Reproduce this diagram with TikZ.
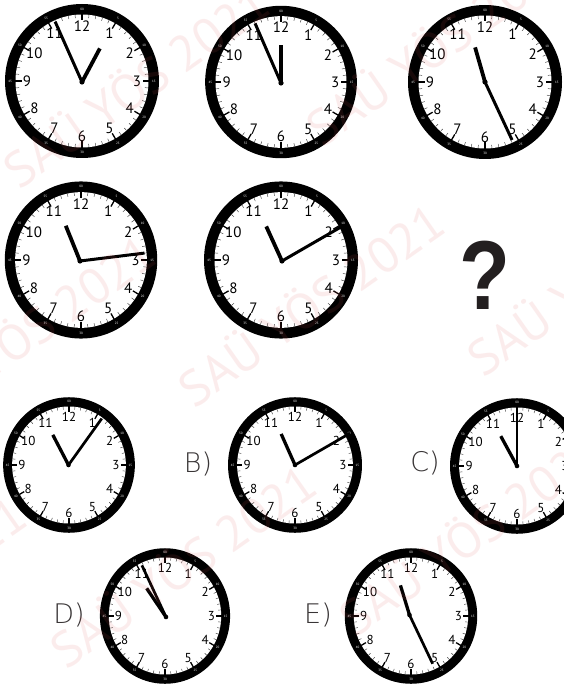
\documentclass[tikz,border=0pt]{standalone}
\usepackage{fontspec}
\setmainfont{PT Sans}
\newfontfamily\numfont{PT Sans}
\newfontfamily\wmfont{PT Sans}
\newfontfamily\lblfont{DejaVu Sans ExtraLight}
\newfontfamily\qfont{Liberation Sans}
\definecolor{wm}{RGB}{225,90,90}
\definecolor{ink}{RGB}{35,31,32}
\tikzset{
  numlbl/.style={inner sep=0pt, text=black},
  minlbl/.style={inner sep=0pt, text=white, font=\fontsize{3.2}{3.2}\selectfont},
  optlbl/.style={inner sep=0pt, text=ink!90, font=\lblfont\fontsize{27}{27}\selectfont},
  wmtext/.style={inner sep=0pt, rotate=35, text=wm, text opacity=0.11, font=\wmfont\fontsize{50}{50}\selectfont}
}
% #1 cx, #2 cy, #3 xscale, #4 yscale, #5 number font size
\newcommand\clockface[5]{%
\begin{scope}[shift={(#1,#2)},xscale=#3,yscale=#4]
  \fill[black] (0,0) circle (77);
  \fill[white] (0,0) circle (66.5);
  \foreach \m in {0,...,59}{\draw[line width=0.45pt,black!75] ({66.5*sin(6*\m)},{-66.5*cos(6*\m)}) -- ({63.2*sin(6*\m)},{-63.2*cos(6*\m)});}
  \foreach \h in {0,...,11}{\draw[line width=1.3pt] ({67*sin(30*\h)},{-67*cos(30*\h)}) -- ({60.5*sin(30*\h)},{-60.5*cos(30*\h)});}
  \foreach \h in {1,...,12}{\node[numlbl,font=\numfont\fontsize{#5}{#5}\selectfont] at ({55*sin(30*\h)},{-55*cos(30*\h)}) {\h};}
  \foreach \h/\l in {0/00,1/5,2/10,3/15,4/20,5/25,6/30,7/35,8/40,9/45,10/50,11/55}{\node[minlbl] at ({71.8*sin(30*\h)},{-71.8*cos(30*\h)}) {\l};}
\end{scope}}
% #1 cx, #2 cy, #3 angle, #4 length, #5 width
\newcommand\clockhand[5]{%
  \draw[line width=#5,line cap=butt] (#1,#2) -- ({#1+#4*sin(#3)},{#2-#4*cos(#3)});}
\begin{document}
\begin{tikzpicture}[x=1pt,y=-1pt]
\useasboundingbox (0,0) rectangle (563,684);
\fill[white] (0,0) rectangle (563,684);

% ---- row 1 ----
\clockface{82}{81}{1}{1}{15}
\clockhand{82}{82}{28}{38}{3.8pt}
\clockhand{82}{82}{-24}{66}{3pt}
\fill (82,82) circle (2.6);

\clockface{281}{82}{0.985}{0.99}{15}
\clockhand{281}{83}{0}{38}{3.8pt}
\clockhand{281}{83}{-23.5}{65}{3pt}
\fill (281,83) circle (2.6);

\clockface{485}{82}{1}{1}{15}
\clockhand{485}{82}{-16}{36}{3.8pt}
\clockhand{485}{82}{155}{64}{3pt}
\fill (485,82) circle (2.6);

% ---- row 2 ----
\clockface{81}{260}{0.99}{1.02}{15}
\clockhand{80}{261}{-22}{38}{3.8pt}
\clockhand{80}{261}{83}{65}{3pt}
\fill (80,261) circle (2.6);

\clockface{281}{260}{1}{1.02}{15}
\clockhand{282}{261}{-24.5}{38}{3.8pt}
\clockhand{282}{261}{60}{69}{3pt}
\fill (282,261) circle (2.6);

\node[inner sep=0pt, text=ink, xscale=0.85, font=\qfont\bfseries\fontsize{98}{98}\selectfont] (q) at (485,275) {?};

% ---- options ----
\clockface{69}{465}{0.855}{0.88}{13}
\clockhand{68.5}{465}{-27.5}{34}{3.3pt}
\clockhand{68.5}{465}{35.6}{57}{2.7pt}
\fill (68.5,465) circle (2.3);

\node[optlbl] (lb) at (198,464) {B)};
\clockface{295}{465}{0.87}{0.88}{13}
\clockhand{295}{465}{-24}{34}{3.3pt}
\clockhand{295}{465}{60}{63.5}{2.7pt}
\fill (295,465) circle (2.3);

\node[optlbl] (lc) at (425,463) {C)};
\clockface{517}{466}{0.87}{0.88}{13}
\clockhand{517}{466}{-28.5}{34}{3.3pt}
\clockhand{517}{466}{0}{62}{2.7pt}
\fill (517,466) circle (2.3);

\node[optlbl] (ld) at (69,615) {D)};
\clockface{165}{616}{0.845}{0.88}{13}
\clockhand{166}{617}{-34}{34.6}{3.3pt}
\clockhand{166}{617}{-25}{57}{2.7pt}
\fill (166,617) circle (2.3);

\node[optlbl] (le) at (318,615) {E)};
\clockface{411}{616}{0.86}{0.88}{13}
\clockhand{409.5}{615}{-17}{31}{3.3pt}
\clockhand{409.5}{615}{154.6}{54}{2.7pt}
\fill (409.5,615) circle (2.3);

% ---- watermark ----
\foreach \wx/\wy in {135/84, 438/42, 21/334, 310/303, -108/596, 599/272, 182/564, 471/532}{
  \node[wmtext] at (\wx,\wy) {SAÜ YÖS 2021};}
\end{tikzpicture}
\end{document}
